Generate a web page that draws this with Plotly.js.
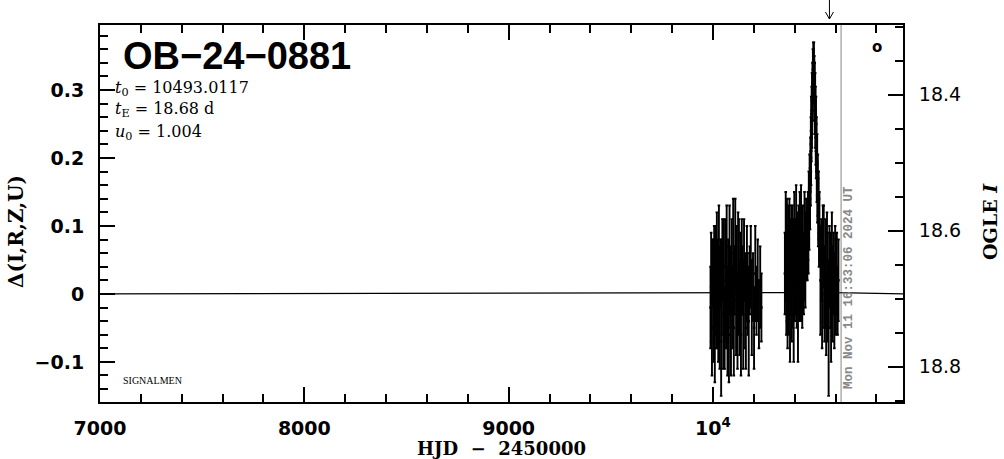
<!DOCTYPE html>
<html>
<head>
<meta charset="utf-8">
<script src="https://cdn.plot.ly/plotly-3.0.1.min.js"></script>
<style>html,body{margin:0;padding:0;background:#fff;}#plot{width:1004px;height:459px;}</style>
</head>
<body>
<div id="plot"></div>
<script>
// ---- data (HJD - 2450000, Δ mag, error) ----
const season1HJD = [9988, 9991, 9995, 9998, 10003, 10006, 10009, 10012, 10016, 10019,
  10022, 10026, 10029, 10033, 10036, 10040, 10043, 10046, 10050, 10053,
  10057, 10060, 10064, 10067, 10071, 10074, 10078, 10081, 10085, 10088,
  10092, 10095, 10099, 10102, 10106, 10109, 10113, 10116, 10120, 10123,
  10127, 10130, 10134, 10137, 10141, 10144, 10148, 10152, 10157, 10161,
  10166, 10170, 10175, 10180, 10185, 10190, 10196, 10201, 10207, 10213,
  10219, 10225, 10231, 10237];
const season1Delta = [-0.02, 0.01, -0.05, 0.03, -0.01, 0.04, -0.06, 0.02, -0.03, 0.05,
  0.00, -0.04, 0.06, -0.02, 0.03, -0.07, 0.01, 0.05, -0.03, 0.04,
  -0.05, 0.02, -0.01, 0.07, -0.04, 0.03, -0.06, 0.05, 0.01, -0.03,
  0.04, -0.02, 0.06, -0.05, 0.02, 0.07, -0.01, 0.04, -0.04, 0.03,
  0.05, -0.02, 0.01, -0.06, 0.04, 0.02, -0.03, 0.05, -0.01, -0.05,
  0.03, 0.00, -0.04, 0.02, 0.04, -0.02, 0.01, -0.05, 0.03, -0.01,
  0.02, -0.03, 0.01, -0.02];
const season1Err = [0.06, 0.08, 0.07, 0.05, 0.09, 0.06, 0.07, 0.08, 0.05, 0.07,
  0.08, 0.06, 0.07, 0.09, 0.05, 0.08, 0.07, 0.06, 0.08, 0.07,
  0.06, 0.09, 0.07, 0.06, 0.08, 0.05, 0.07, 0.08, 0.06, 0.09,
  0.07, 0.06, 0.08, 0.07, 0.05, 0.07, 0.08, 0.06, 0.07, 0.09,
  0.06, 0.07, 0.08, 0.06, 0.07, 0.05, 0.08, 0.06, 0.07, 0.06,
  0.07, 0.06, 0.08, 0.05, 0.06, 0.07, 0.05, 0.06, 0.07, 0.05,
  0.06, 0.05, 0.06, 0.05];

// season 2, before the event peak
const preHJD = [10352, 10356, 10359, 10362, 10365, 10368, 10371, 10374, 10377, 10380,
  10383, 10386, 10389, 10392, 10395, 10398, 10401, 10404, 10407, 10410,
  10413, 10416, 10419, 10422, 10425, 10428, 10431, 10434, 10437, 10440,
  10444, 10448, 10452, 10456];
const preDelta = [0.03, 0.07, 0.01, 0.05, -0.02, 0.06, 0.02, 0.08, -0.01, 0.04,
  0.05, 0.00, 0.07, 0.03, -0.03, 0.06, 0.02, 0.04, 0.08, 0.01,
  0.05, -0.02, 0.07, 0.03, 0.06, 0.02, 0.09, 0.04, 0.01, 0.06,
  0.03, 0.07, 0.05, 0.08];
const preErr = [0.06, 0.08, 0.07, 0.09, 0.06, 0.07, 0.08, 0.06, 0.09, 0.07,
  0.08, 0.07, 0.06, 0.08, 0.07, 0.09, 0.06, 0.07, 0.08, 0.06,
  0.07, 0.08, 0.06, 0.07, 0.09, 0.06, 0.07, 0.08, 0.06, 0.07,
  0.06, 0.08, 0.07, 0.06];

// season 2, around the peak
const peakHJD = [10462, 10465, 10467, 10469, 10471, 10473, 10475, 10477, 10478, 10479,
  10480, 10481, 10482, 10483, 10484, 10485, 10486, 10487, 10488, 10489,
  10490, 10491, 10492, 10493, 10494, 10495, 10496, 10497, 10498, 10499,
  10500, 10501, 10502, 10503, 10504, 10505, 10507, 10508, 10510, 10511,
  10513, 10515, 10517, 10519, 10521];
const peakDelta = [0.07, 0.10, 0.08, 0.13, 0.11, 0.16, 0.14, 0.19, 0.17, 0.22,
  0.20, 0.25, 0.23, 0.27, 0.25, 0.29, 0.27, 0.31, 0.29, 0.33,
  0.31, 0.34, 0.32, 0.33, 0.34, 0.31, 0.32, 0.29, 0.31, 0.27,
  0.29, 0.25, 0.27, 0.23, 0.25, 0.21, 0.22, 0.18, 0.19, 0.15,
  0.16, 0.12, 0.13, 0.09, 0.10];
const peakErr = [0.05, 0.05, 0.05, 0.05, 0.045, 0.045, 0.045, 0.04, 0.04, 0.04,
  0.04, 0.04, 0.035, 0.035, 0.035, 0.035, 0.035, 0.03, 0.035, 0.03,
  0.03, 0.03, 0.03, 0.03, 0.03, 0.03, 0.03, 0.035, 0.03, 0.035,
  0.035, 0.035, 0.035, 0.04, 0.04, 0.04, 0.04, 0.045, 0.045, 0.045,
  0.045, 0.05, 0.05, 0.05, 0.05];

// season 2, after the peak
const postHJD = [10526, 10530, 10534, 10538, 10542, 10546, 10550, 10554, 10558,
  10562, 10566, 10570, 10574, 10578, 10582, 10586, 10590, 10594, 10598,
  10602, 10606, 10610, 10614];
const postDelta = [0.02, 0.05, -0.01, 0.04, 0.07, 0.00, 0.03, -0.03, 0.05,
  0.01, -0.05, 0.04, 0.02, -0.02, 0.06, 0.00, 0.03, -0.01, 0.04,
  0.01, 0.03, -0.01, 0.02];
const postErr = [0.08, 0.06, 0.07, 0.09, 0.06, 0.07, 0.08, 0.06, 0.07,
  0.08, 0.10, 0.06, 0.07, 0.08, 0.06, 0.07, 0.06, 0.07, 0.06,
  0.07, 0.06, 0.05, 0.06];

// model curve (estimated)
const modelHJD = [7000, 10380, 10420, 10440, 10453, 10463, 10473, 10478, 10483, 10488, 10493,
  10498, 10503, 10508, 10513, 10523, 10533, 10546, 10566, 10606, 10930];
const modelDelta = [0, 0.002, 0.008, 0.018, 0.039, 0.075, 0.143, 0.194, 0.250, 0.297, 0.317,
  0.297, 0.250, 0.194, 0.143, 0.075, 0.039, 0.018, 0.008, 0.002, 0];

const xRange = [7000, 10930];
const yRange = [-0.159, 0.3956];
const baselineI = 18.693;            // OGLE I baseline magnitude
const xTickVals = [7000, 8000, 9000, 10000];
const xTickText = ['7000', '8000', '9000', '10<sup>4</sup>'];
const reportHJD = 10627;             // time of report (grey line)
const arrowHJD = 10570;              // arrow marker at top
const eventName = 'OB−24−0881';
const paramLines = ['<i>t</i><sub>0</sub> = 10493.0117', '<i>t</i><sub>E</sub> = 18.68 d', '<i>u</i><sub>0</sub> = 1.004'];
const stampText = 'Mon Nov 11 16:33:06 2024 UT';

// ---- geometry helpers (pixel -> paper) ----
const L = 100, R = 903, T = 25, B = 402;
const px = p => (p - L) / (R - L);
const py = p => (B - p) / (B - T);
const dayPerPx = (xRange[1] - xRange[0]) / (R - L);

function dataTrace(x, y, e) {
  return {
    type: 'scatter', mode: 'markers', x: x, y: y,
    marker: {symbol: 'square', size: 2.5, color: '#000'},
    error_y: {type: 'data', array: e, visible: true, color: '#000', thickness: 1.9, width: 1.3},
    hoverinfo: 'skip', showlegend: false
  };
}

const traces = [
  {type: 'scatter', mode: 'lines', x: modelHJD, y: modelDelta, line: {color: '#000', width: 1.2}, showlegend: false, hoverinfo: 'skip'},
  dataTrace(season1HJD, season1Delta, season1Err),
  dataTrace(preHJD, preDelta, preErr),
  dataTrace(peakHJD, peakDelta, peakErr),
  dataTrace(postHJD, postDelta, postErr),
  {type: 'scatter', mode: 'markers', x: [], y: [], yaxis: 'y2', showlegend: false}
];

const tickBold = {family: 'DejaVu Sans', size: 19, color: '#000', weight: 'bold'};
const serif = 'DejaVu Serif';

const layout = {
  width: 1004, height: 459,
  margin: {l: L, r: 1004 - R, t: T, b: 459 - B},
  paper_bgcolor: '#fff', plot_bgcolor: '#fff',
  showlegend: false,
  xaxis: {
    range: xRange, tickmode: 'array', tickvals: xTickVals, ticktext: xTickText,
    ticks: 'inside', ticklen: 15, tickwidth: 2, tickcolor: '#000',
    showline: true, linewidth: 2, linecolor: '#000', mirror: 'ticks',
    showgrid: false, zeroline: false, tickfont: tickBold, ticklabelstandoff: 8,
    minor: {tickmode: 'linear', tick0: 7000, dtick: 200, ticks: 'inside', ticklen: 8, tickwidth: 2, tickcolor: '#000', showgrid: false},
    title: {text: 'HJD&nbsp;&nbsp;−&nbsp;&nbsp;2450000', font: {family: serif, size: 18, weight: 'bold', color: '#000'}, standoff: 4}
  },
  yaxis: {
    range: yRange, tickmode: 'linear', tick0: 0, dtick: 0.1,
    ticks: 'inside', ticklen: 15, tickwidth: 2, tickcolor: '#000',
    showline: true, linewidth: 2, linecolor: '#000', mirror: false,
    showgrid: false, zeroline: false, tickfont: tickBold, ticklabelstandoff: 10,
    minor: {tickmode: 'linear', tick0: 0, dtick: 0.02, ticks: 'inside', ticklen: 8, tickwidth: 2, tickcolor: '#000', showgrid: false}
  },
  yaxis2: {
    overlaying: 'y', side: 'right', anchor: 'x',
    range: [baselineI - yRange[0], baselineI - yRange[1]],
    tickmode: 'linear', tick0: 0, dtick: 0.2, tickformat: '.1f',
    ticks: 'inside', ticklen: 15, tickwidth: 2, tickcolor: '#000',
    showline: true, linewidth: 2, linecolor: '#000',
    showgrid: false, zeroline: false,
    tickfont: {family: 'DejaVu Sans', size: 19, color: '#000'}, ticklabelstandoff: 10,
    minor: {tickmode: 'linear', tick0: 0, dtick: 0.05, ticks: 'inside', ticklen: 8, tickwidth: 2, tickcolor: '#000', showgrid: false}
  },
  shapes: [
    {type: 'line', xref: 'x', yref: 'paper', x0: reportHJD, x1: reportHJD, y0: 0, y1: 1, line: {color: '#999', width: 1.2}, layer: 'below'},
    // down arrow above the frame
    {type: 'line', xref: 'x', yref: 'paper', x0: arrowHJD, x1: arrowHJD, y0: py(0), y1: py(19), line: {color: '#000', width: 1}},
    {type: 'line', xref: 'x', yref: 'paper', x0: arrowHJD - 4 * dayPerPx, x1: arrowHJD, y0: py(12), y1: py(19), line: {color: '#000', width: 1}},
    {type: 'line', xref: 'x', yref: 'paper', x0: arrowHJD + 4 * dayPerPx, x1: arrowHJD, y0: py(12), y1: py(19), line: {color: '#000', width: 1}}
  ],
  annotations: [
    {xref: 'paper', yref: 'paper', x: px(121), y: py(56), xanchor: 'left', yanchor: 'middle', showarrow: false,
     text: eventName, font: {family: 'Liberation Sans', size: 38, weight: 'bold', color: '#000'}},
    ...paramLines.map((t, i) => ({xref: 'paper', yref: 'paper', x: px(113), y: py(88 + 22 * i), xanchor: 'left', yanchor: 'middle', showarrow: false,
      text: t, font: {family: serif, size: 16, color: '#000'}})),
    {xref: 'paper', yref: 'paper', x: px(121), y: py(380), xanchor: 'left', yanchor: 'middle', showarrow: false,
     text: 'SIGNALMEN', font: {family: 'Liberation Serif', size: 10, color: '#000'}},
    {xref: 'paper', yref: 'paper', x: px(16), y: py(232), xanchor: 'center', yanchor: 'middle', showarrow: false, textangle: -90,
     text: 'Δ(I,R,Z,U)', font: {family: serif, size: 20, weight: 'bold', color: '#000'}},
    {xref: 'paper', yref: 'paper', x: px(990), y: py(222), xanchor: 'center', yanchor: 'middle', showarrow: false, textangle: -90,
     text: 'OGLE <i>I</i>', font: {family: serif, size: 19, weight: 'bold', color: '#000'}},
    {xref: 'paper', yref: 'paper', x: px(849), y: py(288), xanchor: 'center', yanchor: 'middle', showarrow: false, textangle: -90,
     text: stampText, font: {family: 'Liberation Mono', size: 12.5, weight: 'bold', color: '#888'}},
    {xref: 'paper', yref: 'paper', x: px(877), y: py(47), xanchor: 'center', yanchor: 'middle', showarrow: false,
     text: 'o', font: {family: 'DejaVu Sans', size: 15, weight: 'bold', color: '#000'}}
  ]
};

Plotly.newPlot('plot', traces, layout, {staticPlot: true, displayModeBar: false});
</script>
</body>
</html>
